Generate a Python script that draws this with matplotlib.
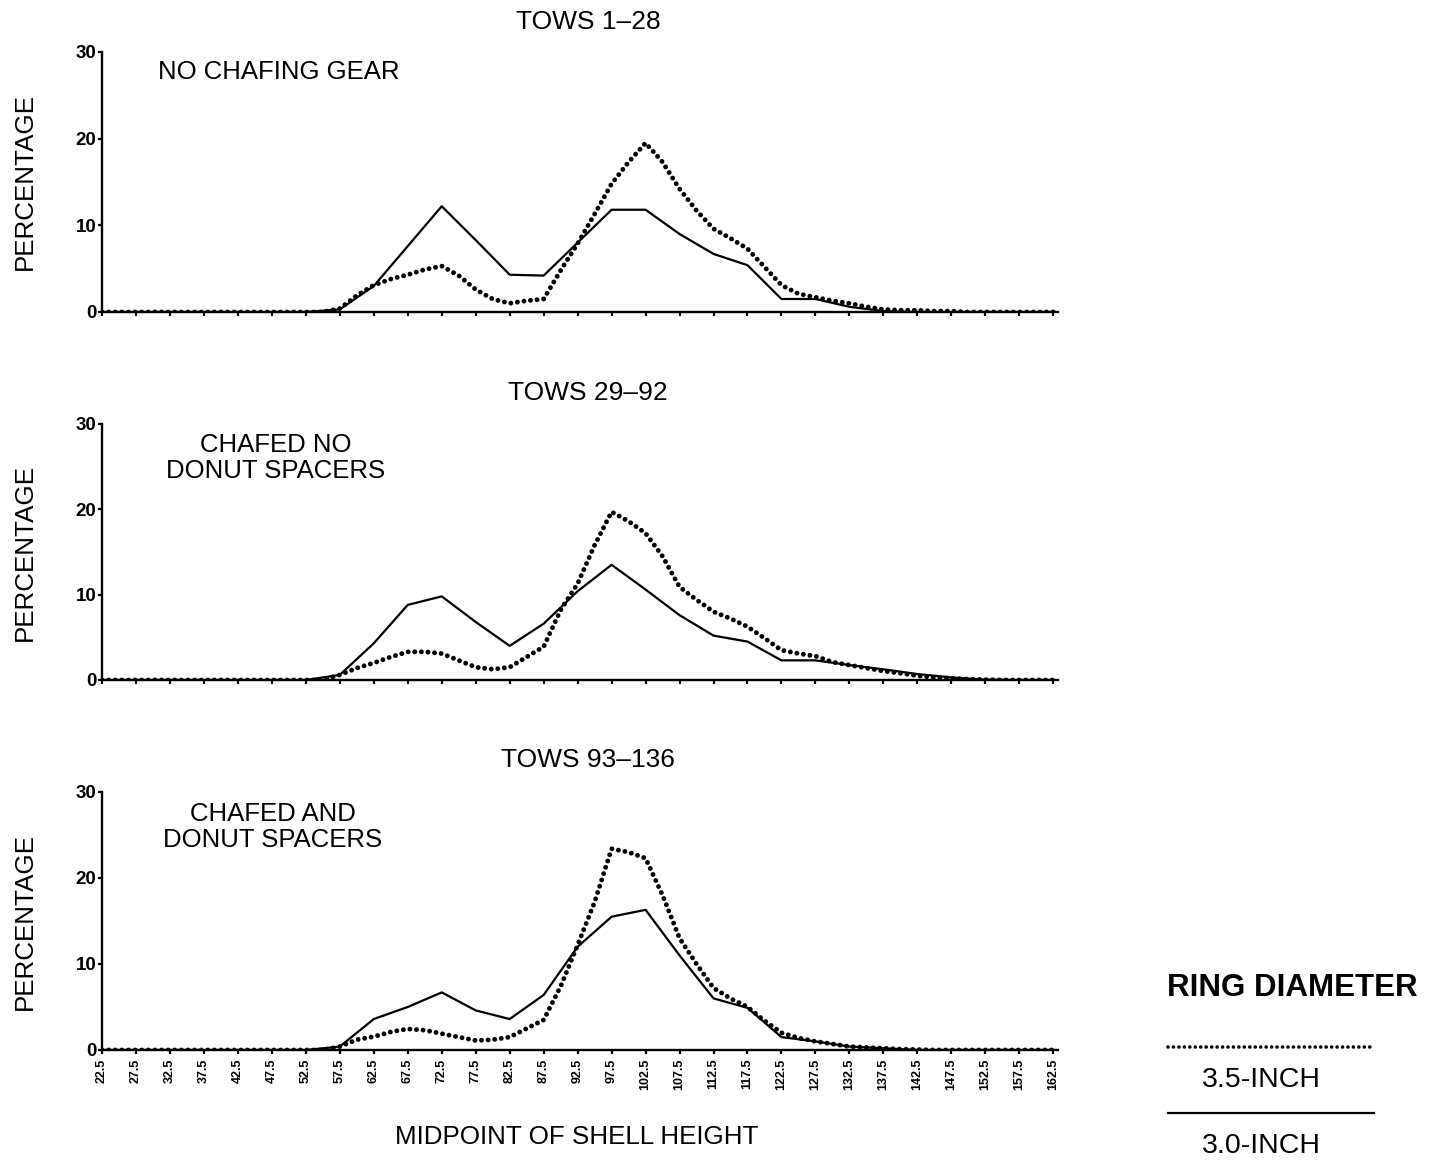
import numpy as np
import matplotlib
matplotlib.use("Agg")
import matplotlib.pyplot as plt
from matplotlib.lines import Line2D

plt.rcParams['font.family'] = ['Liberation Sans', 'DejaVu Sans']

# shell height midpoints
x_solid = np.arange(22.5, 163, 5.0)     # 3.0-inch, read at every class
x_dot = np.arange(22.5, 163, 2.5)       # 3.5-inch, read every half class
tick_vals = np.arange(22.5, 163, 5.0)
tick_labels = ["%.1f" % v for v in tick_vals]

titles = ["TOWS 1\u201328", "TOWS 29\u201392", "TOWS 93\u2013136"]
notes = ["NO CHAFING GEAR", "CHAFED NO\nDONUT SPACERS", "CHAFED AND\nDONUT SPACERS"]

# 3.0-inch ring (solid)
solid_1 = [0, 0, 0, 0, 0, 0, 0,
           0.3, 3.0, 7.6, 12.2, 8.3, 4.3, 4.2, 8.0, 11.8, 11.8, 9.0, 6.7, 5.4, 1.5, 1.5, 0.6, 0.1,
           0, 0, 0, 0, 0]
solid_2 = [0, 0, 0, 0, 0, 0, 0,
           0.6, 4.3, 8.8, 9.8, 6.8, 4.0, 6.6, 10.4, 13.5, 10.6, 7.6, 5.2, 4.5, 2.3, 2.3, 1.75, 1.25,
           0.7, 0.3, 0.05, 0, 0]
solid_3 = [0, 0, 0, 0, 0, 0, 0,
           0.4, 3.6, 5.0, 6.7, 4.6, 3.6, 6.4, 12.0, 15.5, 16.3, 11.0, 6.0, 4.9, 1.5, 1.0, 0.4, 0.2,
           0, 0, 0, 0, 0]

# 3.5-inch ring (dotted)
zeros14 = [0] * 14
dot_1 = zeros14 + [0.4, 1.9, 3.1, 3.8, 4.3, 4.9, 5.3, 4.2, 2.6, 1.5,
                   1.0, 1.3, 1.5, 4.8, 7.9, 11.3, 14.8, 17.3, 19.5, 17.3,
                   14.2, 11.7, 9.6, 8.5, 7.3, 5.2, 3.1, 2.1, 1.7, 1.3,
                   1.0, 0.6, 0.3, 0.2, 0.2, 0.1, 0.1, 0, 0, 0,
                   0, 0, 0]
dot_2 = zeros14 + [0.6, 1.4, 2.0, 2.7, 3.3, 3.3, 3.1, 2.3, 1.5, 1.25,
                   1.5, 2.7, 3.9, 8.2, 11.3, 15.8, 19.7, 18.6, 17.2, 14.5,
                   10.9, 9.4, 8.0, 7.2, 6.25, 4.9, 3.5, 3.1, 2.8, 2.1,
                   1.75, 1.4, 1.05, 0.8, 0.5, 0.3, 0.2, 0.1, 0.05, 0,
                   0, 0, 0]
dot_3 = zeros14 + [0.4, 1.2, 1.55, 2.1, 2.45, 2.3, 1.9, 1.5, 1.1, 1.2,
                   1.5, 2.5, 3.5, 7.4, 12.2, 17.2, 23.4, 23.0, 22.3, 18.0,
                   13.0, 10.0, 7.2, 6.0, 5.0, 3.4, 2.0, 1.4, 1.0, 0.7,
                   0.4, 0.3, 0.2, 0.1, 0.05, 0, 0, 0, 0, 0,
                   0, 0, 0]

solids = [solid_1, solid_2, solid_3]
dots = [dot_1, dot_2, dot_3]

W, H = 1431, 1160
fig = plt.figure(figsize=(W / 100, H / 100), dpi=100)

def fx(px):
    return px / W

def fy(py):
    return 1 - py / H

# (y pixel of 0, y pixel of 30) for each panel
panels = [(312, 52), (680, 424), (1050, 792)]
title_y = [22, 393, 760]
note_pos = [(158, 72, 'left'), (276, 458, 'center'), (273, 827, 'center')]
left_px, right_px = 102, 1058

DOT = (0, (0.01, 1.35))

for i in range(3):
    y0, y30 = panels[i]
    ax = fig.add_axes([fx(left_px), fy(y0), fx(right_px - left_px), (y0 - y30) / H])
    ax.plot(x_solid, solids[i], color='black', lw=1.6)
    ax.plot(x_dot, dots[i], color='black', lw=3.5, linestyle=DOT,
            dash_capstyle='round')
    ax.set_xlim(22.5, 163.2)
    ax.set_ylim(0, 30)
    ax.spines['top'].set_visible(False)
    ax.spines['right'].set_visible(False)
    ax.spines['left'].set_linewidth(1.7)
    ax.spines['bottom'].set_linewidth(1.7)
    ax.set_yticks([0, 10, 20, 30])
    ax.set_xticks(tick_vals)
    ax.tick_params(axis='y', length=3, width=1.6, pad=1, labelsize=13.5)
    ax.tick_params(axis='x', length=3, width=1.6, pad=3, labelsize=9)
    for t in ax.get_yticklabels():
        t.set_fontweight('bold')
    if i == 2:
        ax.set_xticklabels(tick_labels, rotation=90, fontweight='bold')
    else:
        ax.set_xticklabels([])

    fig.text(fx(588), fy(title_y[i]), titles[i], fontsize=19, ha='center', va='center')
    fig.text(fx(25), fy((y0 + y30) / 2), "PERCENTAGE", fontsize=18.7,
             rotation=90, ha='center', va='center')
    nx, ny, al = note_pos[i]
    fig.text(fx(nx), fy(ny), notes[i], fontsize=18.5, ha=al, va='center',
             multialignment='center', linespacing=1.15)

fig.text(fx(577), fy(1137), "MIDPOINT OF SHELL HEIGHT", fontsize=18.7, ha='center', va='center')

# legend block
fig.text(fx(1292), fy(988), "RING DIAMETER", fontsize=22.5, fontweight='bold', ha='center', va='center')
fig.add_artist(Line2D([fx(1168), fx(1372)], [fy(1047), fy(1047)], color='black', lw=2.6,
                      linestyle=(0, (0.01, 1.5)), dash_capstyle='round'))
fig.text(fx(1261), fy(1080), "3.5-INCH", fontsize=20.5, ha='center', va='center')
fig.add_artist(Line2D([fx(1168), fx(1374)], [fy(1113), fy(1113)], color='black', lw=1.6))
fig.text(fx(1261), fy(1146), "3.0-INCH", fontsize=20.5, ha='center', va='center')

fig.savefig("out.png", dpi=100, facecolor='white')
